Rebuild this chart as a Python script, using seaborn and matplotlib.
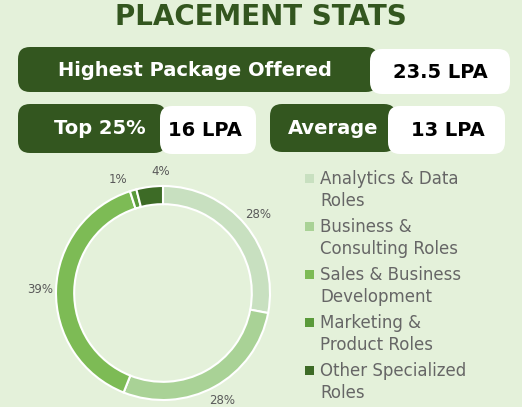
import matplotlib
matplotlib.use("Agg")
import matplotlib.pyplot as plt
import seaborn as sns
from matplotlib.patches import FancyBboxPatch

categories = ["Analytics & Data\nRoles", "Business &\nConsulting Roles", "Sales & Business\nDevelopment",
              "Marketing &\nProduct Roles", "Other Specialized\nRoles"]
shares = [28, 28, 39, 1, 4]
colors = ["#c8e0c0", "#a9d296", "#7dbb55", "#5a9a3a", "#3d6b26"]
stat_labels = ["Highest Package Offered", "Top 25%", "Average"]
stat_values = ["23.5 LPA", "16 LPA", "13 LPA"]

sns.set_theme(style="white")
plt.rcParams['font.family'] = ['DejaVu Sans']
W, H = 522, 407
bg = "#e4f1da"
dark = "#33561f"
fig = plt.figure(figsize=(W/100, H/100), dpi=100, facecolor=bg)

def box(x0, y0, x1, y1, fc, r=8):
    p = FancyBboxPatch((x0/W, 1-y1/H), (x1-x0)/W, (y1-y0)/H,
                       boxstyle=f"round,pad=0,rounding_size={r/W}", transform=fig.transFigure,
                       fc=fc, ec="none", mutation_aspect=W/H)
    fig.patches.append(p)

def txt(x, y, s, size, color, ha="center"):
    fig.text(x/W, 1-y/H, s, fontsize=size, color=color, fontweight="bold", ha=ha, va="center")

txt(261, 17, "PLACEMENT STATS", 20, dark)
box(18, 47, 378, 92, dark, 12)
box(370, 49, 510, 94, "white", 12)
txt(195, 70, stat_labels[0], 14, "white")
txt(440, 72, stat_values[0], 14, "black")
box(18, 104, 166, 153, dark, 12)
box(160, 106, 256, 154, "white", 12)
txt(100, 129, stat_labels[1], 14, "white")
txt(205, 130, stat_values[1], 14, "black")
box(270, 104, 396, 152, dark, 12)
box(388, 106, 505, 154, "white", 12)
txt(333, 128, stat_labels[2], 14, "white")
txt(448, 130, stat_values[2], 14, "black")

cx, cy, R = 163, 293, 107
ax = fig.add_axes([(cx-R)/W, 1-(cy+R)/H, 2*R/W, 2*R/H])
ax.set_facecolor(bg)
wedges, _, autot = ax.pie(shares, colors=colors, startangle=90, counterclock=False,
                          autopct="%d%%", pctdistance=1.15,
                          wedgeprops=dict(width=0.17, edgecolor="white", linewidth=1.5),
                          textprops=dict(fontsize=8.5, color="#595959"))
ax.set_xlim(-1, 1)
ax.set_ylim(-1, 1)
ax.set_aspect("equal")
ax.axis("off")
autot[3].set_position((-0.42, 1.06))
autot[4].set_position((-0.02, 1.14))

y = 178
for c, lab in zip(colors, categories):
    fig.patches.append(plt.Rectangle((305/W, 1-(y+5)/H), 9/W, 9/H, transform=fig.transFigure, fc=c, ec="none"))
    fig.text(320/W, 1-(y+12)/H, lab, fontsize=12, color="#666666", va="center", linespacing=1.35)
    y += 48

fig.savefig("out.png", dpi=100, facecolor=bg)
